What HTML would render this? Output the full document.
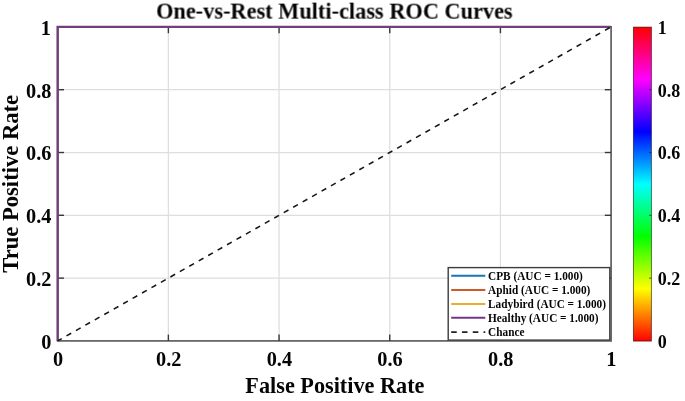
<!DOCTYPE html>
<html><head><meta charset="utf-8"><title>ROC</title>
<style>html,body{margin:0;padding:0;background:#fff;overflow:hidden}svg{display:block}text{font-family:"Liberation Serif",serif;font-weight:bold;fill:#050505}#txt{filter:grayscale(1)}</style>
</head><body>
<svg width="685" height="401" viewBox="0 0 685 401">
<defs><linearGradient id="hsv" x1="0" y1="1" x2="0" y2="0">
<stop offset="0.00000" stop-color="#ff0000"/>
<stop offset="0.16667" stop-color="#ffff00"/>
<stop offset="0.33333" stop-color="#00ff00"/>
<stop offset="0.50000" stop-color="#00ffff"/>
<stop offset="0.66667" stop-color="#0000ff"/>
<stop offset="0.83333" stop-color="#ff00ff"/>
<stop offset="1.00000" stop-color="#ff0000"/>
</linearGradient></defs>
<rect width="685" height="401" fill="#fff"/>
<line x1="168.38" y1="26.9" x2="168.38" y2="340.9" stroke="#dedede" stroke-width="1.25"/>
<line x1="57.7" y1="278.10" x2="611.1" y2="278.10" stroke="#dedede" stroke-width="1.25"/>
<line x1="279.06" y1="26.9" x2="279.06" y2="340.9" stroke="#dedede" stroke-width="1.25"/>
<line x1="57.7" y1="215.30" x2="611.1" y2="215.30" stroke="#dedede" stroke-width="1.25"/>
<line x1="389.74" y1="26.9" x2="389.74" y2="340.9" stroke="#dedede" stroke-width="1.25"/>
<line x1="57.7" y1="152.50" x2="611.1" y2="152.50" stroke="#dedede" stroke-width="1.25"/>
<line x1="500.42" y1="26.9" x2="500.42" y2="340.9" stroke="#dedede" stroke-width="1.25"/>
<line x1="57.7" y1="89.70" x2="611.1" y2="89.70" stroke="#dedede" stroke-width="1.25"/>
<rect x="57.7" y="26.9" width="553.40" height="314.00" fill="none" stroke="#686868" stroke-width="1.8"/>
<line x1="168.38" y1="340.9" x2="168.38" y2="334.59999999999997" stroke="#383838" stroke-width="1.4"/>
<line x1="168.38" y1="26.9" x2="168.38" y2="33.199999999999996" stroke="#383838" stroke-width="1.4"/>
<line x1="57.7" y1="278.10" x2="64.0" y2="278.10" stroke="#383838" stroke-width="1.4"/>
<line x1="611.1" y1="278.10" x2="604.8000000000001" y2="278.10" stroke="#383838" stroke-width="1.4"/>
<line x1="279.06" y1="340.9" x2="279.06" y2="334.59999999999997" stroke="#383838" stroke-width="1.4"/>
<line x1="279.06" y1="26.9" x2="279.06" y2="33.199999999999996" stroke="#383838" stroke-width="1.4"/>
<line x1="57.7" y1="215.30" x2="64.0" y2="215.30" stroke="#383838" stroke-width="1.4"/>
<line x1="611.1" y1="215.30" x2="604.8000000000001" y2="215.30" stroke="#383838" stroke-width="1.4"/>
<line x1="389.74" y1="340.9" x2="389.74" y2="334.59999999999997" stroke="#383838" stroke-width="1.4"/>
<line x1="389.74" y1="26.9" x2="389.74" y2="33.199999999999996" stroke="#383838" stroke-width="1.4"/>
<line x1="57.7" y1="152.50" x2="64.0" y2="152.50" stroke="#383838" stroke-width="1.4"/>
<line x1="611.1" y1="152.50" x2="604.8000000000001" y2="152.50" stroke="#383838" stroke-width="1.4"/>
<line x1="500.42" y1="340.9" x2="500.42" y2="334.59999999999997" stroke="#383838" stroke-width="1.4"/>
<line x1="500.42" y1="26.9" x2="500.42" y2="33.199999999999996" stroke="#383838" stroke-width="1.4"/>
<line x1="57.7" y1="89.70" x2="64.0" y2="89.70" stroke="#383838" stroke-width="1.4"/>
<line x1="611.1" y1="89.70" x2="604.8000000000001" y2="89.70" stroke="#383838" stroke-width="1.4"/>
<polyline points="57.7,340.9 57.7,26.9 610.7,26.9" fill="none" stroke="#71407d" stroke-width="2.3" stroke-linejoin="miter"/>
<line x1="57.7" y1="340.9" x2="611.1" y2="26.9" stroke="#151515" stroke-width="1.55" stroke-dasharray="5.4 5.461" stroke-dashoffset="0.76"/>
<rect x="448.2" y="267.6" width="161.60" height="72.50" fill="#fff" stroke="#3c3c3c" stroke-width="1.4"/>
<line x1="451.2" y1="275.8" x2="485.3" y2="275.8" stroke="#1a75b8" stroke-width="2.0"/>
<line x1="451.2" y1="289.9" x2="485.3" y2="289.9" stroke="#cf5a26" stroke-width="2.0"/>
<line x1="451.2" y1="304.0" x2="485.3" y2="304.0" stroke="#e6b02e" stroke-width="2.0"/>
<line x1="451.2" y1="317.7" x2="485.3" y2="317.7" stroke="#74348a" stroke-width="2.0"/>
<line x1="451.2" y1="332.2" x2="485.3" y2="332.2" stroke="#222" stroke-width="1.8" stroke-dasharray="5.55 5.23"/>
<rect x="633.4" y="27.099999999999998" width="18.00" height="314.00" fill="url(#hsv)" stroke="#000" stroke-opacity="0.6" stroke-width="0.9"/>
<line x1="651.4" y1="278.10" x2="649.1" y2="278.10" stroke="#222" stroke-opacity="0.75" stroke-width="1"/>
<line x1="651.4" y1="215.30" x2="649.1" y2="215.30" stroke="#222" stroke-opacity="0.75" stroke-width="1"/>
<line x1="651.4" y1="152.50" x2="649.1" y2="152.50" stroke="#222" stroke-opacity="0.75" stroke-width="1"/>
<line x1="651.4" y1="89.70" x2="649.1" y2="89.70" stroke="#222" stroke-opacity="0.75" stroke-width="1"/>
<g id="txt">
<text transform="translate(488.1,280.30) rotate(0.02) scale(0.868,1)" font-size="13">CPB (AUC = 1.000)</text>
<text transform="translate(488.1,294.00) rotate(0.02) scale(0.868,1)" font-size="13">Aphid (AUC = 1.000)</text>
<text transform="translate(488.1,307.70) rotate(0.02) scale(0.868,1)" font-size="13">Ladybird (AUC = 1.000)</text>
<text transform="translate(488.1,322.20) rotate(0.02) scale(0.868,1)" font-size="13">Healthy (AUC = 1.000)</text>
<text transform="translate(488.1,336.00) rotate(0.02) scale(0.868,1)" font-size="13">Chance</text>
<text transform="translate(58.00,366.2) rotate(0.02)" font-size="20.3" text-anchor="middle">0</text>
<text transform="translate(51.4,348.90) rotate(0.02)" font-size="20.3" text-anchor="end">0</text>
<text transform="translate(657.8,347.75) rotate(0.02) scale(0.93,1)" font-size="19.4" text-anchor="start">0</text>
<text transform="translate(168.68,366.2) rotate(0.02)" font-size="20.3" text-anchor="middle">0.2</text>
<text transform="translate(51.4,286.10) rotate(0.02)" font-size="20.3" text-anchor="end">0.2</text>
<text transform="translate(657.8,284.95) rotate(0.02) scale(0.93,1)" font-size="19.4" text-anchor="start">0.2</text>
<text transform="translate(279.36,366.2) rotate(0.02)" font-size="20.3" text-anchor="middle">0.4</text>
<text transform="translate(51.4,223.30) rotate(0.02)" font-size="20.3" text-anchor="end">0.4</text>
<text transform="translate(657.8,222.15) rotate(0.02) scale(0.93,1)" font-size="19.4" text-anchor="start">0.4</text>
<text transform="translate(390.04,366.2) rotate(0.02)" font-size="20.3" text-anchor="middle">0.6</text>
<text transform="translate(51.4,160.50) rotate(0.02)" font-size="20.3" text-anchor="end">0.6</text>
<text transform="translate(657.8,159.35) rotate(0.02) scale(0.93,1)" font-size="19.4" text-anchor="start">0.6</text>
<text transform="translate(500.72,366.2) rotate(0.02)" font-size="20.3" text-anchor="middle">0.8</text>
<text transform="translate(51.4,97.70) rotate(0.02)" font-size="20.3" text-anchor="end">0.8</text>
<text transform="translate(657.8,96.55) rotate(0.02) scale(0.93,1)" font-size="19.4" text-anchor="start">0.8</text>
<text transform="translate(611.40,366.2) rotate(0.02)" font-size="20.3" text-anchor="middle">1</text>
<text transform="translate(50.9,34.90) rotate(0.02)" font-size="20.3" text-anchor="end">1</text>
<text transform="translate(657.8,33.75) rotate(0.02) scale(0.93,1)" font-size="19.4" text-anchor="start">1</text>
<text transform="translate(334.4,18.95) rotate(0.02) scale(1,1.015)" font-size="22.35" text-anchor="middle">One-vs-Rest Multi-class ROC Curves</text>
<text transform="translate(334.9,392.85) rotate(0.02)" font-size="22.24" text-anchor="middle">False Positive Rate</text>
<text transform="translate(18.0,183.8) rotate(-90)" font-size="22.6" text-anchor="middle">True Positive Rate</text>
</g>
</svg></body></html>
